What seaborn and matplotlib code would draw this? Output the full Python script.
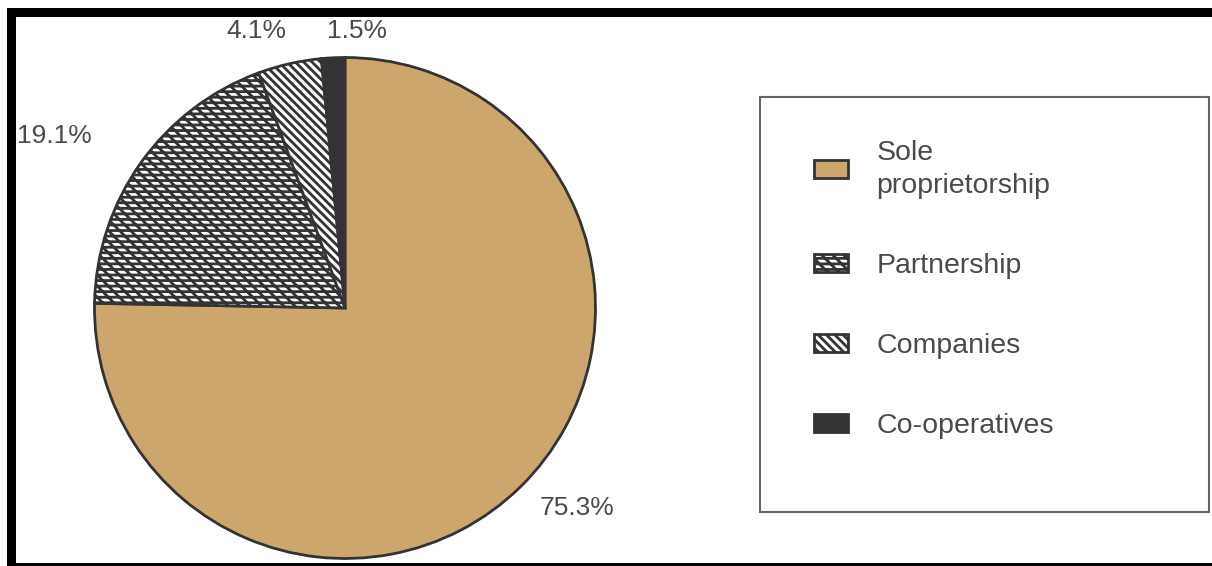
import matplotlib
matplotlib.use("Agg")
import matplotlib.pyplot as plt
from matplotlib.patches import Rectangle
import seaborn as sns

categories = ["Sole\nproprietorship", "Partnership", "Companies", "Co-operatives"]
shares = [75.3, 19.1, 4.1, 1.5]
pct_labels = ["75.3%", "19.1%", "4.1%", "1.5%"]

sns.set_theme(style="white")
plt.rcParams['font.family'] = ['Liberation Sans', 'DejaVu Sans']
plt.rcParams['hatch.linewidth'] = 2.0

W, H = 1212, 566
fig = plt.figure(figsize=(W / 100, H / 100), dpi=100)
fig.patch.set_facecolor("white")

def fx(x): return x / W
def fy(y): return 1 - y / H

edge = "#333333"
tan = "#CDA66E"
colors = [tan, "white", "white", edge]
hatches = [None, "\\\\\\---", "\\\\\\\\", None]

# pie axes: center (345,308), radius ~253
r = 253
ax = fig.add_axes([fx(345 - r), fy(308 + r), 2 * r / W, 2 * r / H])
wedges, _ = ax.pie(shares, colors=colors, startangle=90, counterclock=False,
                   wedgeprops=dict(edgecolor=edge, linewidth=2.0))
for w, h in zip(wedges, hatches):
    if h:
        w.set_hatch(h)
ax.set_xlim(-1.01, 1.01)
ax.set_ylim(-1.01, 1.01)
ax.set_aspect("equal")
ax.axis("off")

# percentage labels
txt_color = "#4a4a4a"
label_pos = [(577, 508), (54, 136), (256, 31), (357, 31)]
for lab, (x, y) in zip(pct_labels, label_pos):
    fig.text(fx(x), fy(y), lab, ha="center", va="center", fontsize=19, color=txt_color)

# legend box
fig.patches.append(Rectangle((fx(760), fy(512)), fx(1209) - fx(760), fy(97) - fy(512),
                             transform=fig.transFigure, facecolor="none",
                             edgecolor="#666666", linewidth=1.5))
leg = fig.legend(wedges, categories, loc="upper left",
                 bbox_to_anchor=(fx(788), fy(114)), frameon=False,
                 fontsize=20.5, labelspacing=1.9, handlelength=1.2,
                 handleheight=0.58, handletextpad=1.0, borderpad=0.4,
                 labelcolor=txt_color)
leg.get_texts()[0].set_linespacing(1.35)

# scan frame
fig.patches.append(Rectangle((fx(7), fy(17)), 1 - fx(7), fy(8) - fy(17),
                             transform=fig.transFigure, facecolor="black", edgecolor="none"))
fig.patches.append(Rectangle((fx(7), 0), fx(16) - fx(7), fy(8),
                             transform=fig.transFigure, facecolor="black", edgecolor="none"))
fig.patches.append(Rectangle((fx(7), 0), 1 - fx(7), fy(563),
                             transform=fig.transFigure, facecolor="black", edgecolor="none"))

fig.savefig("out.png", dpi=100, facecolor="white")
